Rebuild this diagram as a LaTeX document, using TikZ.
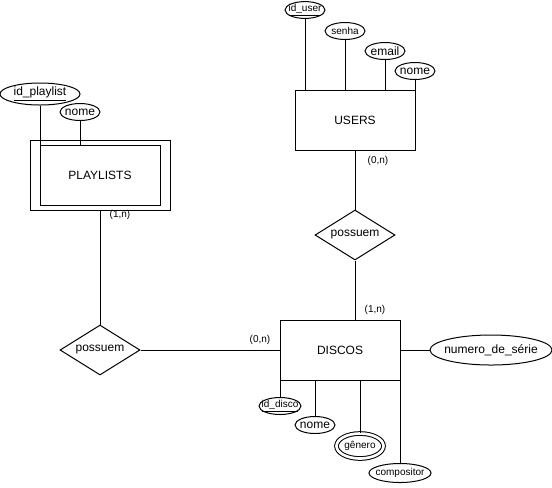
\documentclass[tikz,border=0pt]{standalone}
\usepackage{fontspec}
\setmainfont{Liberation Sans}
\usetikzlibrary{shapes.geometric}

\begin{document}
\begin{tikzpicture}[x=0.75pt,y=-0.75pt,line width=0.75pt,
    entity/.style={draw,rectangle,minimum width=90pt,minimum height=45pt,inner sep=0pt,font=\fontsize{9}{11}\selectfont},
    relation/.style={draw,diamond,aspect=1.6,minimum width=60pt,minimum height=37.5pt,inner sep=0pt,font=\fontsize{9}{11}\selectfont},
    attrib/.style={draw,ellipse,inner sep=0pt,minimum width=30pt,minimum height=12.75pt,font=\fontsize{9}{11}\selectfont},
    smallattrib/.style={attrib,font=\fontsize{7.5}{9}\selectfont},
    card/.style={inner sep=0pt,font=\fontsize{7.5}{9}\selectfont}]
    \useasboundingbox (0,0) rectangle (552,487);
    % entities
    \node[entity,minimum width=105pt,minimum height=52.5pt] (playlistsbox) at (100,175) {};
    \node[entity] (playlists) at (100,175) {PLAYLISTS};
    \node[entity] (users) at (355,120) {USERS};
    \node[entity] (discos) at (340,350) {DISCOS};
    % relations
    \node[relation] (possuemu) at (355,235) {possuem};
    \node[relation] (possuemp) at (100,350) {possuem};
    % attributes
    \node[attrib,minimum width=60pt,minimum height=16.5pt] (idplaylist) at (40,94) {\makebox[0pt]{\underline{id\_playlist}}};
    \node[attrib] (nomep) at (80,112) {\makebox[0pt]{nome}};
    \node[smallattrib,minimum height=12pt] (iduser) at (305,10) {\makebox[0pt]{\underline{id\_user}}};
    \node[smallattrib] (senha) at (345,31) {\makebox[0pt]{senha}};
    \node[attrib] (email) at (385,51) {\makebox[0pt]{email}};
    \node[attrib] (nomeu) at (415,71) {\makebox[0pt]{nome}};
    \node[attrib,minimum width=91.5pt,minimum height=22.5pt] (numero) at (491,350) {\makebox[0pt]{numero\_de\_série}};
    \node[smallattrib,minimum width=31.5pt] (iddisco) at (280,406) {\makebox[0pt]{\underline{id\_disco}}};
    \node[attrib] (nomed) at (315,425) {\makebox[0pt]{nome}};
    \node[smallattrib,double,double distance=2pt,minimum width=35.25pt,minimum height=18.75pt] (genero) at (360,446) {\makebox[0pt]{gênero}};
    \node[smallattrib,minimum width=46.5pt,minimum height=14.25pt] (compositor) at (400,473) {\makebox[0pt]{compositor}};
    % connectors
    \draw (playlistsbox.south) -- (possuemp.north);
    \draw (possuemp.east) -- (discos.west);
    \draw (users.south) -- (possuemu.north);
    \draw (possuemu.south) -- (possuemu.south |- discos.north);
    \draw (idplaylist.south) -- (idplaylist.south |- playlists.north);
    \draw (nomep.south) -- (nomep.south |- playlists.north);
    \foreach \a in {iduser,senha,email,nomeu}
        \draw (\a.south) -- (\a.south |- users.north);
    \foreach \a in {iddisco,nomed,genero,compositor}
        \draw (\a.north |- discos.south) -- (\a.north);
    \draw (discos.east) -- (numero.west);
    % cardinalities
    \node[card] (c1) at (120,215) {(1,n)};
    \node[card] (c2) at (378,161) {(0,n)};
    \node[card] (c3) at (375,310) {(1,n)};
    \node[card] (c4) at (260,340) {(0,n)};
\end{tikzpicture}
\end{document}
